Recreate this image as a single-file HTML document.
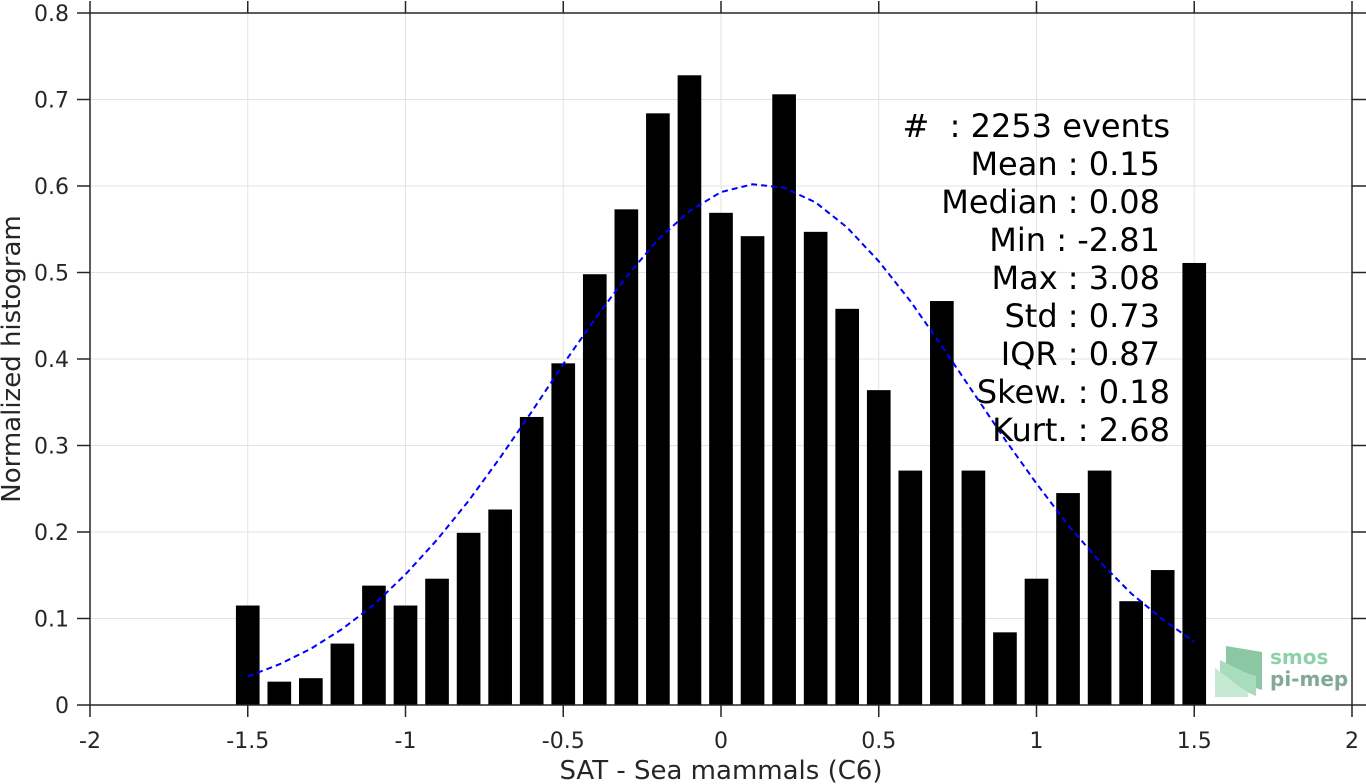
<!DOCTYPE html>
<html><head><meta charset="utf-8"><style>
body{margin:0;background:#fff;}
svg{display:block;font-family:"DejaVu Sans","Liberation Sans",sans-serif;}
</style></head><body>
<svg id="chart" width="1366" height="784" viewBox="0 0 1366 784" xmlns="http://www.w3.org/2000/svg">
<g id="grid"></g>
<g id="bars"></g>
<polyline id="fit" fill="none" stroke="#0000ff" stroke-width="2" stroke-dasharray="6,4"></polyline>
<rect x="90" y="13" width="1262" height="692" fill="none" stroke="#262626" stroke-width="1.5"/>
<g id="ticks"></g>
<text x="721" y="779" font-size="26" text-anchor="middle" fill="#262626">SAT - Sea mammals (C6)</text>
<text transform="translate(20,359) rotate(-90)" font-size="26" text-anchor="middle" fill="#262626">Normalized histogram</text>
<g font-size="32" fill="#000" text-anchor="end" style="white-space:pre">
<text x="1170" y="137" xml:space="preserve">#  : 2253 events</text>
<text x="1160" y="175">Mean : 0.15</text>
<text x="1160" y="213">Median : 0.08</text>
<text x="1160" y="251">Min : -2.81</text>
<text x="1160" y="289">Max : 3.08</text>
<text x="1160" y="327">Std : 0.73</text>
<text x="1160" y="365">IQR : 0.87</text>
<text x="1170" y="403">Skew. : 0.18</text>
<text x="1170" y="441">Kurt. : 2.68</text>
</g>
<g>
<polygon points="1226,646 1262,652 1262,690 1250,686 1226,676" fill="#8cc7a4"/>
<polygon points="1220,660 1232,666 1244,672 1256,676 1256,696 1242,690 1230,686 1220,680" fill="#a9dbbd"/>
<polygon points="1215,668 1226,676 1238,686 1248,692 1248,697 1215,697" fill="#c6e9d3"/>
<text x="1270" y="664" font-size="20" font-weight="bold" fill="#8fd0aa">smos</text>
<text x="1270" y="686" font-size="20" font-weight="bold" fill="#82a993">pi-mep</text>
</g>
</svg>
<script>
const binCenters=[-1.5,-1.4,-1.3,-1.2,-1.1,-1.0,-0.9,-0.8,-0.7,-0.6,-0.5,-0.4,-0.3,-0.2,-0.1,0,0.1,0.2,0.3,0.4,0.5,0.6,0.7,0.8,0.9,1.0,1.1,1.2,1.3,1.4,1.5];
const binValues=[0.115,0.027,0.031,0.071,0.138,0.115,0.146,0.199,0.226,0.333,0.395,0.498,0.573,0.684,0.728,0.569,0.542,0.706,0.547,0.458,0.364,0.271,0.467,0.271,0.084,0.146,0.245,0.271,0.120,0.156,0.511];
const fitValues=[0.033,0.047,0.065,0.088,0.116,0.151,0.191,0.236,0.286,0.339,0.394,0.446,0.495,0.538,0.571,0.593,0.602,0.598,0.581,0.552,0.513,0.467,0.415,0.361,0.307,0.256,0.208,0.166,0.129,0.099,0.073];
const xTicks=[-2,-1.5,-1,-0.5,0,0.5,1,1.5,2];
const xTickLabels=["-2","-1.5","-1","-0.5","0","0.5","1","1.5","2"];
const yTicks=[0,0.1,0.2,0.3,0.4,0.5,0.6,0.7,0.8];
const yTickLabels=["0","0.1","0.2","0.3","0.4","0.5","0.6","0.7","0.8"];
const binWidth=0.075;
const NS="http://www.w3.org/2000/svg";
const X=v=>721+v*315.5, Y=v=>705-v*865;
function mk(t,a,p){const e=document.createElementNS(NS,t);for(const k in a)e.setAttribute(k,a[k]);p.appendChild(e);return e;}
const grid=document.getElementById('grid'),ticks=document.getElementById('ticks'),bars=document.getElementById('bars');
xTicks.forEach((v,i)=>{
 const g=mk('line',{x1:X(v),x2:X(v),y1:13,y2:705,stroke:'#e3e3e3','stroke-width':1},grid);
 
 
 const t=mk('line',{x1:X(v),x2:X(v),y1:705,y2:717,stroke:'#262626','stroke-width':1.5},ticks);
 
 
 const t2=mk('line',{x1:X(v),x2:X(v),y1:1,y2:13,stroke:'#262626','stroke-width':1.5},ticks);
 
 
 const l=mk('text',{x:X(v),y:748,'font-size':22,'text-anchor':'middle',fill:'#262626'},ticks);
 l.textContent=xTickLabels[i];
 
 
});
yTicks.forEach((v,i)=>{
 const g=mk('line',{x1:90,x2:1352,y1:Y(v),y2:Y(v),stroke:'#e3e3e3','stroke-width':1},grid);
 
 
 const t=mk('line',{x1:77,x2:90,y1:Y(v),y2:Y(v),stroke:'#262626','stroke-width':1.5},ticks);
 
 
 const t2=mk('line',{x1:1352,x2:1366,y1:Y(v),y2:Y(v),stroke:'#262626','stroke-width':1.5},ticks);
 
 
 const l=mk('text',{x:69,y:Y(v)+8,'font-size':22,'text-anchor':'end',fill:'#262626'},ticks);
 l.textContent=yTickLabels[i];
 
 
});
binCenters.forEach((c,i)=>{
 const x0=X(c-binWidth/2),x1=X(c+binWidth/2);
 const r=mk('rect',{x:x0,y:Y(binValues[i]),width:x1-x0,height:Y(0)-Y(binValues[i]),fill:'#000'},bars);
 
 
});
document.getElementById('fit').setAttribute('points',binCenters.map((c,i)=>X(c)+','+Y(fitValues[i])).join(' '));
</script>
</body></html>
